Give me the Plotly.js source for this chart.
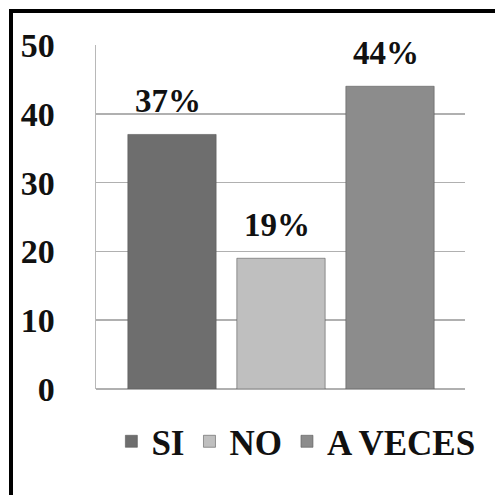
<!DOCTYPE html>
<html>
<head>
<meta charset="utf-8">
<script src="https://cdn.plot.ly/plotly-3.0.1.min.js"></script>
<style>
  html, body { margin: 0; padding: 0; background: #fff; }
  #frame { position: absolute; left: 9px; top: 9px; width: 482px; height: 490px;
           border-left: 4px solid #000; border-top: 4px solid #000; border-right: 2px solid #8a8a8a; }
  #chart { position: absolute; left: 0; top: 0; width: 495px; height: 495px; }
</style>
</head>
<body>
<div id="frame"></div>
<div id="chart"></div>
<script>
const categories = ["SI", "NO", "A VECES"];
const values = [37, 19, 44];
const labels = ["37%", "19%", "44%"];
const colors = ["#6e6e6e", "#bfbfbf", "#8c8c8c"];
const yTicks = [0, 10, 20, 30, 40, 50];

const SERIF = "'Liberation Serif', 'Times New Roman', Times, serif";

const traces = categories.map((c, i) => ({
  type: "bar",
  name: c,
  x: [c],
  y: [values[i]],
  width: 0.81,
  marker: { color: colors[i], line: { color: "#5a5a5a", width: 0.6 } },
  hoverinfo: "skip"
}));

const annotations = categories.map((c, i) => ({
  x: c, y: values[i], xref: "x", yref: "y",
  text: labels[i], showarrow: false,
  yanchor: "middle", yshift: 33, xshift: -4,
  font: { family: SERIF, size: 33, color: "#111", weight: "bold" }
}));

const layout = {
  width: 495, height: 495,
  margin: { l: 96, r: 30, t: 45, b: 106 },
  paper_bgcolor: "rgba(0,0,0,0)",
  plot_bgcolor: "#fff",
  barmode: "overlay",
  showlegend: true,
  font: { family: SERIF },
  xaxis: {
    type: "category", categoryorder: "array", categoryarray: categories,
    range: [-0.697, 2.688], showticklabels: false, showgrid: false,
    zeroline: false, showline: false, fixedrange: true
  },
  yaxis: {
    range: [0, 50], tickvals: yTicks, ticktext: yTicks.map(String),
    showgrid: true, gridcolor: "#b0b0b0", gridwidth: 1.5,
    zeroline: true, zerolinecolor: "#b0b0b0", zerolinewidth: 1.5,
    showline: true, linecolor: "#b8b8b8", linewidth: 1.5,
    ticks: "", ticklabelstandoff: 33,
    tickfont: { family: SERIF, size: 34, color: "#111", weight: "bold" },
    fixedrange: true
  },
  legend: {
    orientation: "h", xref: "container", x: 0.225, xanchor: "left",
    yref: "container", y: 0.108, yanchor: "middle",
    font: { family: SERIF, size: 35, color: "#111", weight: "bold" },
    itemwidth: 30, traceorder: "normal", bgcolor: "rgba(0,0,0,0)"
  },
  annotations: annotations
};

Plotly.newPlot("chart", traces, layout, { displayModeBar: false, staticPlot: true });
</script>
</body>
</html>
